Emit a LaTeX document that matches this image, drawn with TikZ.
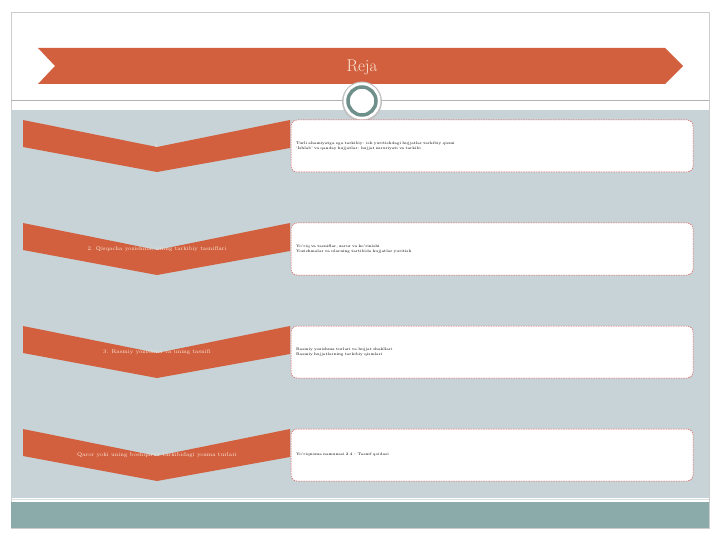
\documentclass[tikz,border=0pt]{standalone}
\usepackage{tikz}
\usetikzlibrary{positioning}
\definecolor{rejared}{HTML}{D2603F}
\definecolor{rejacream}{HTML}{FCE8D6}
\definecolor{bandgray}{HTML}{C7D3D7}
\definecolor{bandteal}{HTML}{8BABAB}
\definecolor{ringteal}{HTML}{6E8F8A}
\definecolor{boxline}{HTML}{D9534F}
\begin{document}
\begin{tikzpicture}[x=1pt, y=-1pt, node distance=103pt,
	chev/.style={fill=rejared},
	chevtext/.style={text=rejacream, font=\fontsize{5.5}{6.5}\selectfont, inner sep=0pt},
	itembox/.style={draw=boxline, dash pattern=on 1.5pt off 1pt, line width=0.5pt, fill=white, rounded corners=6pt, minimum width=402pt, minimum height=52pt, text width=392pt, align=left, inner sep=5pt, font=\fontsize{3.8}{4.8}\selectfont}]

	\useasboundingbox (0,0) rectangle (720,540);

	% slide frame and bands
	\draw [black!20, fill=white] (11,12) rectangle (709,528);
	\fill [bandgray] (11,110) rectangle (709,498);
	\draw [black!30] (11,100) -- (709,100);
	\fill [bandteal] (11,502) rectangle (709,528);
	\draw [bandgray!70!white, line width=1pt] (11,499.5) -- (709,499.5);

	% title ribbon
	\fill [rejared] (38,48) -- (665,48) -- (683,66) -- (665,84) -- (38,84) -- (55,66) -- cycle;
	\node [text=rejacream, font=\fontsize{17}{20}\selectfont] (reja) at (362,67) {Reja};

	% ring
	\fill [black!25] (362,101.5) circle (20);
	\fill [white] (362,101) circle (18.5);
	\draw [ringteal, line width=3.5pt] (362,101) circle (14);

	% chevrons
	\fill [chev] (23,120) -- (157,147) -- (290,120) -- (290,148) -- (157,172) -- (23,147) -- cycle;
	\fill [chev, yshift=-103pt] (23,120) -- (157,147) -- (290,120) -- (290,148) -- (157,172) -- (23,147) -- cycle;
	\fill [chev, yshift=-206pt] (23,120) -- (157,147) -- (290,120) -- (290,148) -- (157,172) -- (23,147) -- cycle;
	\fill [chev, yshift=-309pt] (23,120) -- (157,147) -- (290,120) -- (290,148) -- (157,172) -- (23,147) -- cycle;

	\node [chevtext] (c1) at (157,146) {1.};
	\node [chevtext] (c2) [below of = c1] {2. Qisqacha yozishma, uning tarkibiy tasniflari};
	\node [chevtext] (c3) [below of = c2] {3. Rasmiy yozishma va uning tasnifi};
	\node [chevtext] (c4) [below of = c3] {Qaror yoki uning boshqaruv tarkibidagi yozma turlari};

	% text boxes
	\node [itembox] (b1) at (492,146)
	{Turli ahamiyatga ega tarkibiy: ish yuritishdagi hujjatlar tarkibiy qismi \\
	 `Ishlab' va qanday hujjatlar: hujjat zaruriyati va tarkibi};
	\node [itembox] (b2) [below of = b1]
	{Yo'riq va tasniflar, zarur va ko'rinishi \\
	 Yozishmalar va ularning tartibida hujjatlar yuritish};
	\node [itembox] (b3) [below of = b2]
	{Rasmiy yozishma turlari va hujjat shakllari \\
	 Rasmiy hujjatlarning tarkibiy qismlari};
	\node [itembox] (b4) [below of = b3]
	{Yo'riqnoma namunasi 2.4 -- Tasnif qoidasi};

\end{tikzpicture}
\end{document}
